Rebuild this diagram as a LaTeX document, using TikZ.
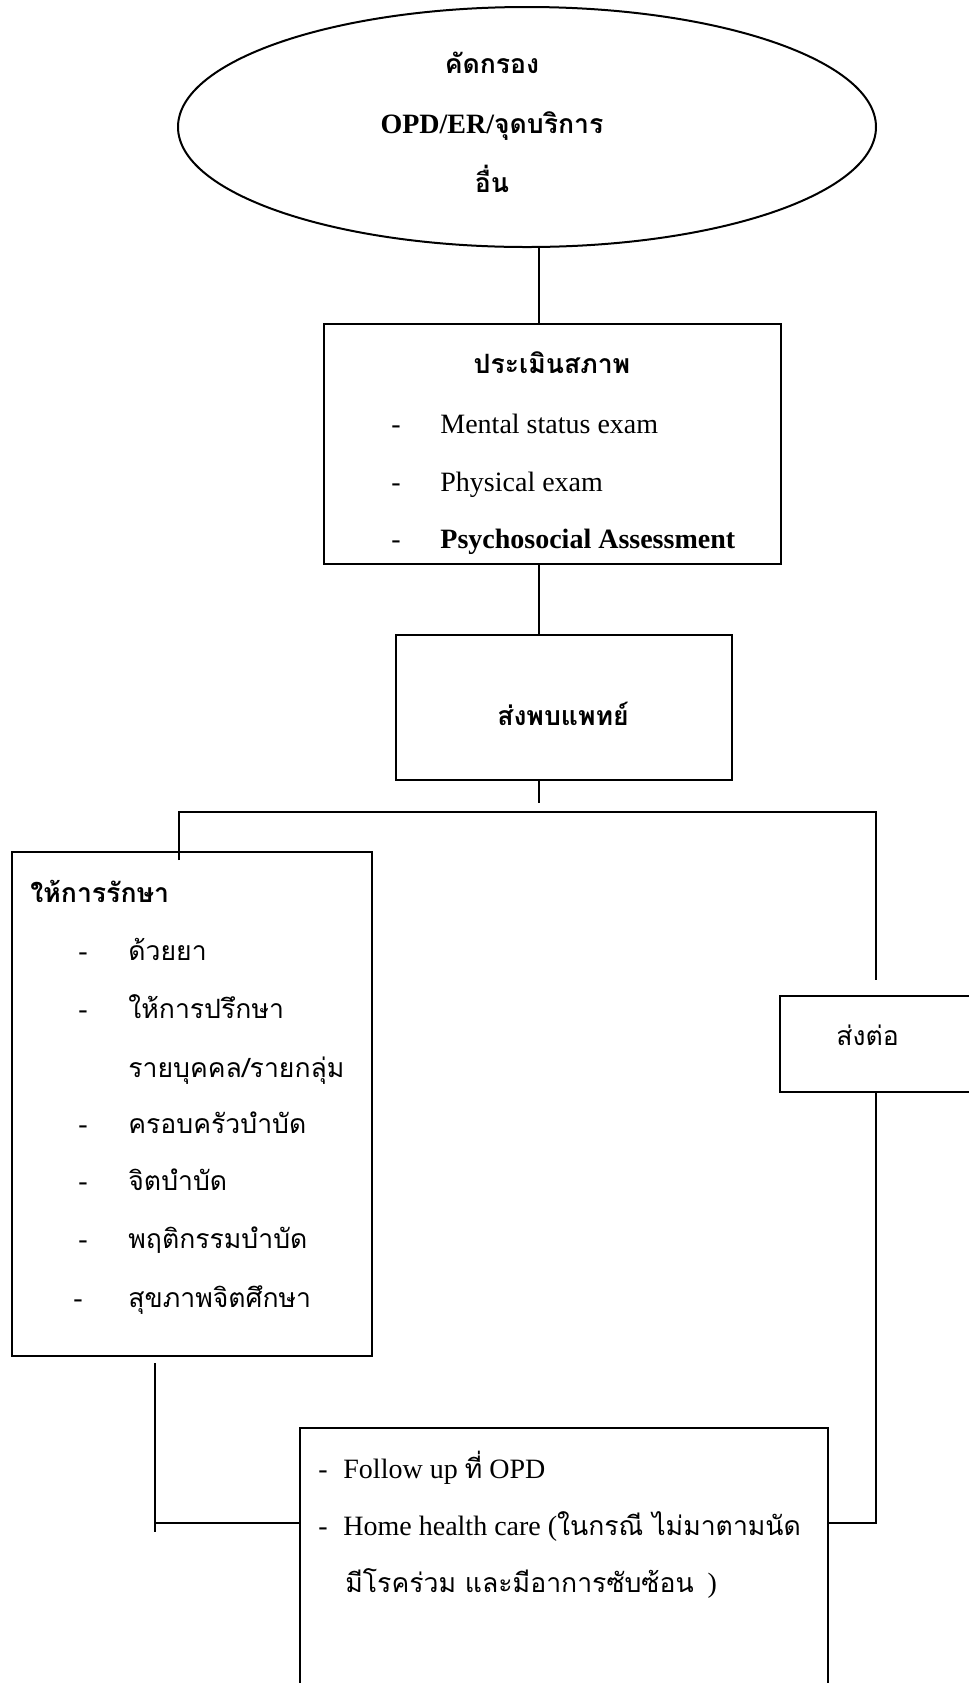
\documentclass[tikz,border=0pt]{standalone}
\usepackage{fontspec}
\setmainfont{Liberation Serif}
\newfontfamily\thaifont[Script=Thai,Scale=0.95]{Loma}
\usetikzlibrary{shapes.geometric}
\tikzset{
    tnode/.style = {inner sep=0pt, anchor=base west},
    cnode/.style = {inner sep=0pt, anchor=base},
    box/.style = {rectangle, draw=black, line width=1pt, inner sep=0pt, anchor=north west},
    oval/.style = {ellipse, draw=black, line width=1pt, inner sep=0pt},
    link/.style = {draw=black, line width=1pt}
}

\begin{document}
\begin{tikzpicture}[x=0.5pt, y=-0.5pt, font=\fontsize{14}{17}\selectfont]
    \useasboundingbox (0,0) rectangle (969,1683);
    \clip (0,0) rectangle (969,1683);

    \node [oval, minimum width=349pt, minimum height=120pt] (screen) at (527,127) {};
    \node [cnode] (screen1) at (492,73) {\bfseries\thaifont คัดกรอง};
    \node [cnode] (screen2) at (492,133) {\bfseries OPD/ER/{\thaifont จุดบริการ}};
    \node [cnode] (screen3) at (492,192) {\bfseries\thaifont อื่น};

    \node [box, minimum width=228.5pt, minimum height=120pt] (assess) at (323,323) {};
    \node [cnode] (assess0) at (552,373) {\bfseries\thaifont ประเมินสภาพ};
    \foreach \y/\t [count=\i] in {433/Mental status exam, 491/Physical exam, 548/\textbf{Psychosocial Assessment}}
    {
        \node [cnode] (assessdash\i) at (396,\y) {-};
        \node [tnode] (assess\i) at (440,\y) {\t};
    }

    \node [box, minimum width=168pt, minimum height=72.5pt] (doctor) at (395,634) {};
    \node [cnode] (doctor0) at (563,725) {\bfseries\thaifont ส่งพบแพทย์};

    \node [box, minimum width=180pt, minimum height=252pt] (treat) at (11,851) {};
    \node [tnode] (treat0) at (30,902) {\bfseries\thaifont ให้การรักษา};
    \foreach \y/\t [count=\i] in {960/ด้วยยา, 1018/ให้การปรึกษา, 1133/ครอบครัวบำบัด, 1190/จิตบำบัด, 1248/พฤติกรรมบำบัด}
    {
        \node [cnode] (treatdash\i) at (83,\y) {-};
        \node [tnode] (treat\i) at (128,\y) {\thaifont \t};
    }
    \node [tnode] (treat6) at (128,1077) {\thaifont รายบุคคล/รายกลุ่ม};
    \node [cnode] (treatdash7) at (78,1307) {-};
    \node [tnode] (treat7) at (128,1307) {\thaifont สุขภาพจิตศึกษา};

    \node [box, minimum width=115.5pt, minimum height=48pt] (refer) at (779,995) {};
    \node [tnode] (refer0) at (836,1045) {\thaifont ส่งต่อ};

    \node [box, minimum width=264pt, minimum height=150pt] (follow) at (299,1427) {};
    \node [cnode] (followdash1) at (323,1478) {-};
    \node [tnode] (follow1) at (343,1478) {Follow up {\thaifont ที่} OPD};
    \node [cnode] (followdash2) at (323,1535) {-};
    \node [tnode] (follow2) at (343,1535) {Home health care ({\thaifont ในกรณี ไม่มาตามนัด}};
    \node [tnode] (follow3) at (345,1592) {{\thaifont มีโรคร่วม และมีอาการซับซ้อน}\ \ )};

    \coordinate (spine) at (539,0);
    \coordinate (gap) at (539,803);
    \coordinate (fork) at (0,812);
    \coordinate (leftdrop) at (179,860);
    \coordinate (rightdrop) at (876,980);
    \coordinate (tie) at (0,1523);
    \coordinate (lefttop) at (155,1363);
    \coordinate (leftend) at (155,1532);

    \draw [link] (screen.south -| spine) -- (assess.north -| spine);
    \draw [link] (assess.south -| spine) -- (doctor.north -| spine);
    \draw [link] (doctor.south -| spine) -- (gap);
    \draw [link] (leftdrop) |- (rightdrop |- fork) -- (rightdrop);
    \draw [link] (refer.south -| rightdrop) |- (follow.east |- tie);
    \draw [link] (lefttop) -- (leftend);
    \draw [link] (lefttop |- tie) -- (follow.west |- tie);
\end{tikzpicture}
\end{document}
